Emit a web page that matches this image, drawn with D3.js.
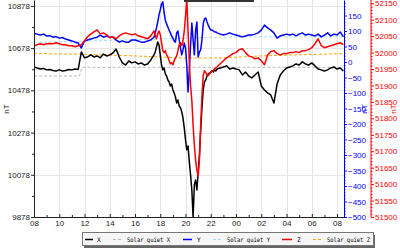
<!DOCTYPE html>
<html><head><meta charset="utf-8">
<script src="https://cdn.jsdelivr.net/npm/d3@7"></script>
<style>html,body{margin:0;padding:0;background:#fff;} svg{display:block;}</style>
</head><body>
<svg id="c" width="400" height="250"></svg>
<script>
// hours since 08:00
const hours = [0,0.25,0.5,0.75,1,1.25,1.5,1.75,2,2.25,2.5,2.75,3,3.25,3.5,3.75,4,4.25,4.5,4.75,5,5.25,5.5,5.75,6,6.25,6.5,6.75,7,7.25,7.5,7.75,8,8.25,8.5,8.75,9,9.25,9.5,
9.6,9.7,9.8,9.9,10,10.1,10.2,10.3,10.4,10.5,10.6,10.7,10.8,10.9,11,11.1,11.2,11.3,11.4,11.5,11.6,11.7,11.8,11.9,12,12.1,12.2,12.3,12.4,12.5,12.6,12.7,12.8,12.9,13,13.1,13.2,13.3,13.4,13.5,13.6,13.7,13.8,13.9,14,14.1,14.2,14.3,14.4,14.5,
14.75,15,15.25,15.5,15.75,16,16.25,16.5,16.75,17,17.25,17.5,17.75,18,18.25,18.5,18.75,19,19.25,19.5,19.75,20,20.25,20.5,20.75,21,21.25,21.5,21.75,22,22.25,22.5,22.75,23,23.25,23.5,23.75,24,24.25,24.5];

const seriesX = [10589,10584,10579,10582,10575,10577,10572,10570,10575,10570,10572,10577,10575,10579,10577,10660,10632,10636,10646,10636,10641,10632,10650,10641,10646,10655,10674,10636,10608,10598,10617,10608,10613,10603,10608,10598,10603,10622,10646,
10660,10684,10707,10693,10646,10598,10575,10584,10556,10546,10527,10518,10499,10508,10480,10466,10447,10418,10432,10404,10395,10376,10347,10300,10243,10196,10214,10139,10077,10006,9878,10030,10053,10006,10091,10172,10290,10395,10480,10518,10527,10546,10556,10560,10565,10570,10565,10575,10570,10579,
10584,10589,10594,10579,10584,10579,10575,10551,10565,10546,10537,10551,10565,10499,10480,10466,10456,10418,10508,10551,10570,10584,10589,10594,10603,10598,10613,10603,10598,10608,10594,10579,10575,10570,10575,10584,10589,10579,10584,10570];

const seriesY = [93,90,87,90,84,85,80,82,77,79,74,71,68,64,61,45,68,71,74,77,80,87,80,84,80,80,71,64,68,64,64,71,71,68,64,64,68,71,80,
94,110,129,152,168,187,194,161,135,123,113,103,94,84,77,68,64,94,100,71,45,23,39,61,45,-10,-97,-26,55,126,71,23,103,129,16,32,39,71,123,139,142,129,119,110,103,103,100,97,97,94,
90,87,90,94,90,87,84,81,84,87,87,90,94,103,119,110,103,94,77,84,87,90,87,90,84,90,94,87,90,87,84,90,81,87,94,84,90,87,97,81];

const seriesZ = [52021,52024,52027,52024,52027,52028,52027,52030,52027,52024,52024,52021,52021,52018,52021,52024,52036,52048,52057,52063,52069,52057,52060,52054,52045,52048,52042,52051,52057,52060,52057,52054,52057,52051,52048,52045,52042,52051,52066,
52054,52042,52057,52066,52054,52030,52006,52000,52006,51993,51987,51975,51966,51969,51963,51975,51984,51990,52006,52024,52030,52021,52036,52066,52112,52165,52066,51969,51900,51854,51779,51718,51672,51642,51624,51672,51779,51869,51930,51945,51939,51933,51930,51936,51939,51945,51945,51951,51954,51957,
51966,51975,51984,51990,51997,52000,52009,52012,52000,51990,51987,51981,51984,51975,51963,51993,52003,52006,51997,51993,51997,51997,52000,52000,52003,52000,52006,52006,52009,52015,52027,52042,52021,52015,52018,52021,52024,52027,52030,52024];

const sqHours = [0,3.6,3.8,8,12,15,18,24.5];
const sqX = [10546,10546,10587,10587,10587,10587,10587,10587];
const sqY = [64,66,67,72,77,80,81,81];
const sqZ = [51997,51995,51995,51990,51983,51984,51990,51997];

const leftTicks = [9878,10078,10278,10478,10678,10878];
const leftMinor = [9978,10178,10378,10578,10778];
const blueTicks = [-500,-450,-400,-350,-300,-250,-200,-150,-100,-50,0,50,100,150];
const redTicks = [51500,51550,51600,51650,51700,51750,51800,51850,51900,51950,52000,52050,52100,52150];
const xTickHours = [0,2,4,6,8,10,12,14,16,18,20,22,24];
const legendLabels = ["X","Solar quiet X","Y","Solar quiet Y","Z","Solar quiet Z"];

const svg = d3.select("#c");
const L = 34, R = 344, T = 0, B = 217;
const t0 = new Date(2000, 0, 1, 8, 0, 0);
const toDate = h => new Date(t0.getTime() + h * 3600e3);
const x = d3.scaleTime().domain([t0, toDate(24.55)]).range([L, R]);
const yL = d3.scaleLinear().domain([9878, 10906]).range([B, T]);
const yB = d3.scaleLinear().domain([-500, 200]).range([B, T]);
const yR = d3.scaleLinear().domain([51500, 52160]).range([B, T]);

const FONT = "'Liberation Sans', Arial, sans-serif";

// gridlines
const grid = svg.append("g").attr("stroke", "#e6e6e6").attr("stroke-width", 1);
xTickHours.forEach(h => {
  const px = Math.round(x(toDate(h))) + 0.5;
  grid.append("line").attr("x1", px).attr("x2", px).attr("y1", T).attr("y2", B);
});
leftTicks.forEach(v => {
  const py = Math.round(yL(v)) + 0.5;
  grid.append("line").attr("x1", L).attr("x2", R).attr("y1", py).attr("y2", py);
});

// clip
svg.append("clipPath").attr("id", "clip").append("rect")
  .attr("x", L).attr("y", T).attr("width", R - L).attr("height", B - T);

const plot = svg.append("g").attr("clip-path", "url(#clip)");
function drawLine(hs, vals, yScale, color, width, dash) {
  const line = d3.line().x((d, i) => x(toDate(hs[i]))).y(d => yScale(d));
  const p = plot.append("path").datum(vals).attr("d", line)
    .attr("fill", "none").attr("stroke", color).attr("stroke-width", width)
    .attr("stroke-linejoin", "round");
  if (dash) p.attr("stroke-dasharray", dash);
}
drawLine(sqHours, sqX, yL, "#b8b8b8", 1, "3,2");
drawLine(sqHours, sqY, yB, "#a8dcf0", 1, "3,2");
drawLine(sqHours, sqZ, yR, "#ffa500", 1, "3,2");
drawLine(hours, seriesX, yL, "#000000", 1.5);
drawLine(hours, seriesY, yB, "#0000ff", 1.5);
drawLine(hours, seriesZ, yR, "#ff0000", 1.5);

function styleAxis(g, color) {
  g.select(".domain").attr("stroke", color);
  g.selectAll("line").attr("stroke", color);
  g.selectAll("text").attr("fill", color).attr("font-family", FONT).attr("font-size", 8);
}

// left axis
const gL = svg.append("g").attr("transform", `translate(${L},0)`)
  .call(d3.axisLeft(yL).tickValues(leftTicks).tickFormat(d3.format("d")).tickSize(3).tickPadding(1).tickSizeOuter(0));
styleAxis(gL, "#222");
const gLm = svg.append("g").attr("transform", `translate(${L},0)`)
  .call(d3.axisLeft(yL).tickValues(leftMinor).tickFormat("").tickSize(2).tickSizeOuter(0));
gLm.select(".domain").remove(); gLm.selectAll("line").attr("stroke", "#222");

// bottom axis
const gX = svg.append("g").attr("transform", `translate(0,${B})`)
  .call(d3.axisBottom(x).tickValues(xTickHours.map(toDate)).tickFormat(d3.timeFormat("%H")).tickSizeInner(-3).tickSizeOuter(0).tickPadding(3));
styleAxis(gX, "#222");
const gXm = svg.append("g").attr("transform", `translate(0,${B})`)
  .call(d3.axisBottom(x).tickValues(d3.range(1, 24.5, 2).map(toDate)).tickFormat("").tickSizeInner(-2).tickSizeOuter(0));
gXm.select(".domain").remove(); gXm.selectAll("line").attr("stroke", "#222");

// blue axis
const gB = svg.append("g").attr("transform", `translate(${R},0)`)
  .call(d3.axisRight(yB).tickValues(blueTicks).tickSize(3).tickPadding(1).tickSizeOuter(0));
styleAxis(gB, "#0000ff");
const gBm = svg.append("g").attr("transform", `translate(${R},0)`)
  .call(d3.axisRight(yB).tickValues(d3.range(-490, 200, 10).filter(v => v % 50 !== 0)).tickFormat("").tickSize(1.5).tickSizeOuter(0));
gBm.select(".domain").remove(); gBm.selectAll("line").attr("stroke", "#0000ff");

// red axis
const RX = 371;
const gR = svg.append("g").attr("transform", `translate(${RX},0)`)
  .call(d3.axisRight(yR).tickValues(redTicks).tickFormat(d3.format("d")).tickSize(3).tickPadding(1).tickSizeOuter(0));
styleAxis(gR, "#ff0000");
gR.select(".domain").attr("d", `M0,${T}V${B}`);
const gRm = svg.append("g").attr("transform", `translate(${RX},0)`)
  .call(d3.axisRight(yR).tickValues(d3.range(51510, 52160, 10).filter(v => v % 50 !== 0)).tickFormat("").tickSize(1.5).tickSizeOuter(0));
gRm.select(".domain").remove(); gRm.selectAll("line").attr("stroke", "#ff0000");

// axis titles
function unitLabel(px, py, color) {
  svg.append("text").attr("transform", `translate(${px},${py}) rotate(-90)`)
    .attr("text-anchor", "middle").attr("font-family", FONT).attr("font-size", 8)
    .attr("fill", color).text("nT");
}
unitLabel(9, 109, "#222");
unitLabel(367, 109, "#0000ff");
unitLabel(396, 109, "#ff0000");

// top dark bar
svg.append("rect").attr("x", 184).attr("y", 0).attr("width", 70).attr("height", 2).attr("fill", "#333");

// legend
const lg = svg.append("g");
lg.append("rect").attr("x", 84).attr("y", 235).attr("width", 291).attr("height", 13).attr("fill", "#666");
lg.append("rect").attr("x", 82.5).attr("y", 232.5).attr("width", 291).attr("height", 13).attr("fill", "#f6f6f6").attr("stroke", "#777");
const legendItems = [
  {x1: 85, x2: 93, tx: 97, color: "#000", dash: null},
  {x1: 113, x2: 123, tx: 127, color: "#b8b8b8", dash: "3,2"},
  {x1: 183, x2: 192, tx: 197, color: "#0000ff", dash: null},
  {x1: 213, x2: 223, tx: 227, color: "#a8dcf0", dash: "3,2"},
  {x1: 282, x2: 292, tx: 297, color: "#ff0000", dash: null},
  {x1: 313, x2: 323, tx: 327, color: "#ffa500", dash: "3,2"}
];
legendItems.forEach((it, i) => {
  const ln = lg.append("line").attr("x1", it.x1).attr("x2", it.x2).attr("y1", 239.5).attr("y2", 239.5)
    .attr("stroke", it.color).attr("stroke-width", it.dash ? 1 : 1.5);
  if (it.dash) ln.attr("stroke-dasharray", it.dash);
  const t = lg.append("text").attr("x", it.tx).attr("y", 242).attr("font-family", "'DejaVu Sans Mono', 'Liberation Mono', monospace")
    .attr("font-size", 6.2).attr("fill", "#000").text(legendLabels[i]);
  if (legendLabels[i].length > 1) t.attr("textLength", 43).attr("lengthAdjust", "spacingAndGlyphs");
});
</script>
</body></html>
